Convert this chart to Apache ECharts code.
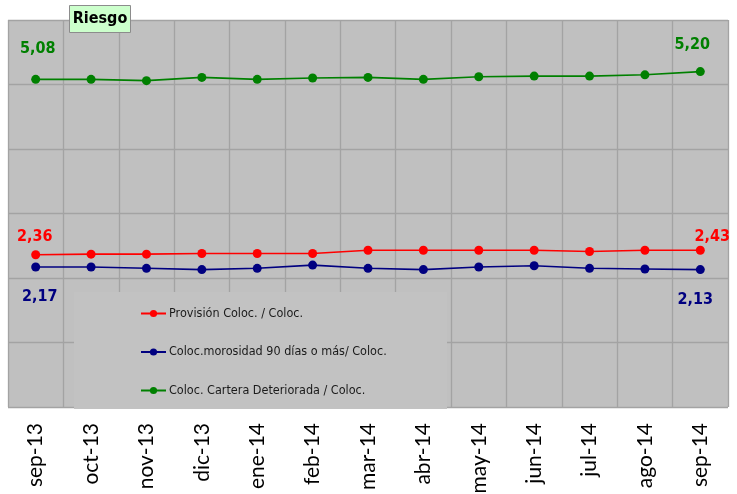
<!DOCTYPE html>
<html>
<head>
<meta charset="utf-8">
<script src="https://cdn.jsdelivr.net/npm/echarts@6/dist/echarts.min.js"></script>
<style>
html,body{margin:0;padding:0;background:#fff;}
#c{width:737px;height:494px;}
</style>
</head>
<body>
<div id="c"></div>
<script>
const categories = ['sep-13','oct-13','nov-13','dic-13','ene-14','feb-14','mar-14','abr-14','may-14','jun-14','jul-14','ago-14','sep-14'];
const provision = [2.36,2.37,2.37,2.38,2.38,2.38,2.43,2.43,2.43,2.43,2.41,2.43,2.43];
const morosidad = [2.17,2.17,2.15,2.13,2.15,2.20,2.15,2.13,2.17,2.19,2.15,2.14,2.13];
const deteriorada = [5.08,5.08,5.06,5.11,5.08,5.10,5.11,5.08,5.12,5.13,5.13,5.15,5.20];
const seriesNames = ['Provisión Coloc. / Coloc.','Coloc.morosidad 90 días o más/ Coloc.','Coloc. Cartera Deteriorada / Coloc.'];
const yTicks = [0,1,2,3,4,5,6];

const labelFont = "'DejaVu Sans Condensed','Liberation Sans',sans-serif";

function withEndLabels(values, color, firstOffset, lastOffset) {
  return values.map(function (v, i) {
    if (i === 0 || i === values.length - 1) {
      return {
        value: v,
        label: {
          show: true,
          position: 'inside',
          offset: i === 0 ? firstOffset : lastOffset,
          formatter: function (p) { return p.value.toFixed(2).replace('.', ','); },
          color: color,
          fontFamily: labelFont,
          fontWeight: 'bold',
          fontSize: 16
        }
      };
    }
    return v;
  });
}

function lineSeries(name, values, color, firstOffset, lastOffset) {
  return {
    name: name,
    type: 'line',
    data: withEndLabels(values, color, firstOffset, lastOffset),
    symbol: 'circle',
    symbolSize: 9,
    lineStyle: { color: color, width: 1.6 },
    itemStyle: { color: color },
    z: 5,
    animation: false
  };
}

const chart = echarts.init(document.getElementById('c'), null, { renderer: 'canvas' });
chart.setOption({
  animation: false,
  grid: {
    left: 8, right: 9, top: 20, bottom: 87,
    outerBoundsMode: 'none', containLabel: false,
    show: true, backgroundColor: '#c0c0c0', borderWidth: 0
  },
  graphic: [
    {
      type: 'rect', z: 1,
      shape: { x: 74, y: 292, width: 373, height: 117 },
      style: { fill: '#c2c2c2', stroke: null }
    },
    {
      type: 'rect', z: 10,
      shape: { x: 69.5, y: 5.5, width: 61, height: 27 },
      style: { fill: '#ccffcc', stroke: '#8c8c8c', lineWidth: 1 }
    },
    {
      type: 'text', z: 11,
      x: 100, y: 19,
      style: {
        text: 'Riesgo', fill: '#000',
        font: "bold 16px 'DejaVu Sans Condensed','Liberation Sans',sans-serif",
        align: 'center', verticalAlign: 'middle'
      }
    }
  ],
  legend: {
    orient: 'vertical',
    left: 140, top: 307, padding: 0,
    itemWidth: 25, itemHeight: 9, itemGap: 25.5,
    data: seriesNames,
    textStyle: {
      color: '#1a1a1a', fontSize: 12.5,
      fontFamily: "'DejaVu Sans Condensed','Liberation Sans',sans-serif",
      padding: [0, 0, 0, -2]
    },
    selectedMode: false,
    z: 6
  },
  xAxis: {
    type: 'category',
    data: categories,
    boundaryGap: true,
    axisLine: { show: false },
    axisTick: { show: false },
    splitLine: { show: true, interval: 0, lineStyle: { color: '#a3a3a3', width: 1.3 } },
    axisLabel: {
      interval: 0, rotate: 90, margin: 16,
      color: '#000', fontSize: 21,
      fontFamily: "Lato,'Open Sans',sans-serif"
    }
  },
  yAxis: {
    type: 'value',
    min: yTicks[0], max: yTicks[yTicks.length - 1], interval: 1,
    axisLabel: { show: false },
    axisLine: { show: false },
    axisTick: { show: false },
    splitLine: { show: true, lineStyle: { color: '#a3a3a3', width: 1.3 } }
  },
  series: [
    lineSeries(seriesNames[0], provision, '#ff0000', [-1, -18], [12, -13]),
    lineSeries(seriesNames[1], morosidad, '#000080', [4, 30], [-5, 30]),
    lineSeries(seriesNames[2], deteriorada, '#008000', [2, -30], [-8, -27])
  ]
});
</script>
</body>
</html>
